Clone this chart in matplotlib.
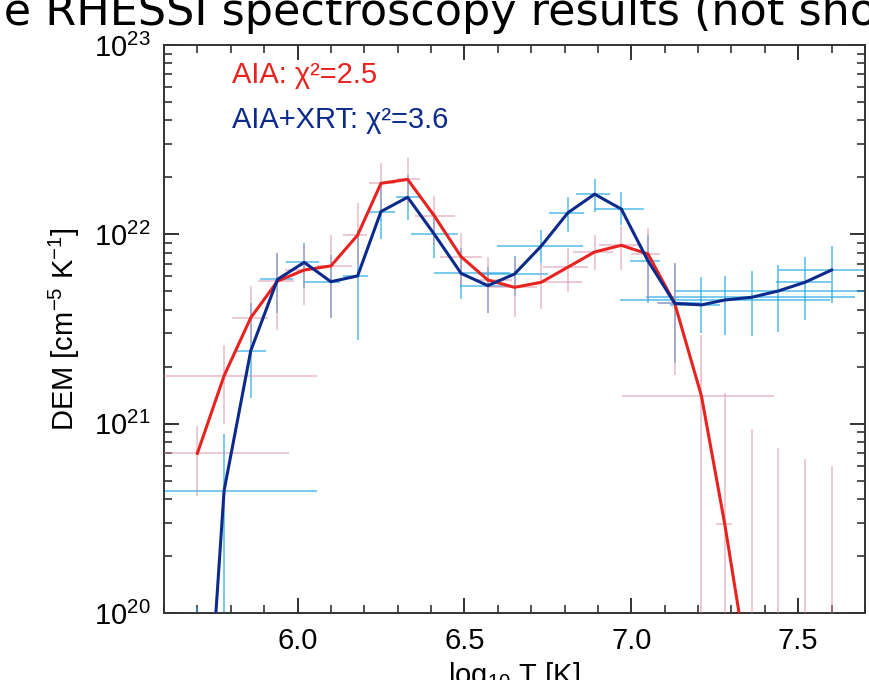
import numpy as np
import matplotlib
matplotlib.use('Agg')
import matplotlib.pyplot as plt
from matplotlib.ticker import MultipleLocator, LogLocator, NullFormatter

plt.rcParams['font.family'] = ['Liberation Sans', 'DejaVu Sans']
plt.rcParams['mathtext.fontset'] = 'custom'
plt.rcParams['mathtext.rm'] = 'Liberation Sans'
plt.rcParams['mathtext.it'] = 'Liberation Sans:italic'

# temperature grid (log10 T)
logT = [5.70, 5.78, 5.86, 5.94, 6.02, 6.10, 6.18, 6.25, 6.33, 6.41, 6.49, 6.57, 6.65,
        6.73, 6.81, 6.89, 6.97, 7.05, 7.13, 7.21, 7.28, 7.36, 7.44, 7.52, 7.60]

# AIA only
aia_dem = [6.97e20, 1.79e21, 3.63e21, 5.66e21, 6.48e21, 6.81e21, 9.9e21, 1.86e22, 1.95e22,
           1.25e22, 7.62e21, 5.74e21, 5.25e21, 5.58e21, 6.71e21, 8.07e21, 8.75e21, 7.87e21,
           4.32e21, 1.40e21, 2.94e20, 3.9e19, 1.0e19, 3.0e18, 1.0e18]
aia_hi = [9.7e20, 2.59e21, 5.33e21, 7.96e21, 8.8e21, 9.9e21, 1.46e22, 2.39e22, 2.52e22,
          1.59e22, 1.02e22, 7.62e21, 7.62e21, 7.08e21, 8.47e21, 9.9e21, 1.10e22, 1.08e22,
          7.06e21, 2.94e21, 1.46e21, 9.4e20, 7.4e20, 6.5e20, 5.97e20]
aia_lo = [4.15e20, 9.96e20, 2.67e21, 3.13e21, 4.24e21, 3.6e21, 6.89e21, 1.34e22, 1.43e22,
          8.79e21, 5.40e21, 3.83e21, 3.67e21, 4.02e21, 4.98e21, 6.48e21, 6.48e21, 4.50e21,
          1.81e21, 1e19, 1e19, 1e18, 1e18, 1e17, 1e17]
aia_tlo = [5.45, 5.45, 5.803, 5.882, 5.962, 6.057, 6.137, 6.215, 6.297, 6.351, 6.426, 6.540,
           6.570, 6.726, 6.735, 6.824, 6.902, 7.000, 7.076, 6.973, 7.255, 7.36, 7.44, 7.52, 7.60]
aia_thi = [5.973, 6.057, 5.912, 5.990, 6.030, 6.162, 6.209, 6.292, 6.366, 6.471, 6.554, 6.642,
           6.716, 6.851, 6.869, 6.945, 7.025, 7.085, 7.165, 7.426, 7.303, 7.36, 7.44, 7.52, 7.60]

# AIA + XRT
xrt_dem = [3.5e18, 4.43e20, 2.43e21, 5.78e21, 7.11e21, 5.62e21, 6.03e21, 1.32e22, 1.57e22,
           1.0e22, 6.22e21, 5.36e21, 6.17e21, 8.67e21, 1.30e22, 1.63e22, 1.36e22, 7.23e21,
           4.32e21, 4.24e21, 4.50e21, 4.65e21, 5.02e21, 5.58e21, 6.48e21]
xrt_hi = [1.08e20, 8.8e20, 4.33e21, 7.96e21, 9.03e21, 7.76e21, 1.05e22, 1.82e22, 2.06e22,
          1.31e22, 8.47e21, 6.75e21, 7.67e21, 1.05e22, 1.57e22, 1.95e22, 1.67e22, 9.9e21,
          7.06e21, 5.93e21, 6.03e21, 6.40e21, 6.89e21, 7.57e21, 8.67e21]
xrt_lo = [1e17, 1e19, 1.36e21, 3.84e21, 5.19e21, 3.60e21, 2.77e21, 9.42e21, 1.19e22,
          7.46e21, 4.54e21, 3.83e21, 4.72e21, 7.08e21, 1.03e22, 1.32e22, 1.12e22, 4.32e21,
          2.09e21, 3.0e21, 2.94e21, 2.90e21, 3.06e21, 3.52e21, 4.32e21]
xrt_tlo = [5.70, 5.45, 5.819, 5.887, 5.965, 6.016, 6.136, 6.214, 6.295, 6.340, 6.408, 6.486,
           6.540, 6.599, 6.754, 6.834, 6.890, 6.995, 7.079, 7.115, 6.965, 7.045, 7.130, 7.434, 7.438]
xrt_thi = [5.70, 6.057, 5.907, 5.985, 6.065, 6.127, 6.210, 6.292, 6.372, 6.481, 6.636, 6.630,
           6.750, 6.855, 6.858, 6.935, 7.037, 7.087, 7.205, 7.265, 7.594, 7.669, 7.80, 7.599, 7.80]

red = '#e8221e'
navy = '#0b2a8c'
pink = '#d98aa6'
sky = '#1aa6e4'

T = np.array(logT)


def bars(dem, lo, hi, tlo, thi):
    d = np.array(dem)
    yerr = [d - np.array(lo), np.array(hi) - d]
    xerr = [T - np.array(tlo), np.array(thi) - T]
    return d, xerr, yerr


fig = plt.figure(figsize=(8.7, 6.8), dpi=100)
ax = fig.add_axes([164 / 870, 67 / 680, 701 / 870, 568 / 680])

d, xe, ye = bars(xrt_dem, xrt_lo, xrt_hi, xrt_tlo, xrt_thi)
ax.errorbar(T, d, xerr=xe, yerr=ye, fmt='none', ecolor=sky, elinewidth=1.1,
            capsize=0, alpha=0.75, zorder=2)
d, xe, ye = bars(aia_dem, aia_lo, aia_hi, aia_tlo, aia_thi)
ax.errorbar(T, d, xerr=xe, yerr=ye, fmt='none', ecolor=pink, elinewidth=1.1,
            capsize=0, alpha=0.6, zorder=3)

ax.plot(T, aia_dem, color=red, lw=2.2, zorder=5)
ax.plot(T, xrt_dem, color=navy, lw=2.2, zorder=6)

ax.set_yscale('log')
ax.set_xlim(5.6, 7.7)
ax.set_ylim(1e20, 1e23)

ax.xaxis.set_major_locator(MultipleLocator(0.5))
ax.xaxis.set_minor_locator(MultipleLocator(0.1))
ax.xaxis.set_major_formatter(plt.FormatStrFormatter('%.1f'))
ax.yaxis.set_major_locator(LogLocator(base=10, numticks=10))
ax.yaxis.set_minor_locator(LogLocator(base=10, subs=np.arange(2, 10), numticks=20))
ax.yaxis.set_minor_formatter(NullFormatter())

ax.tick_params(which='both', direction='in', top=True, right=True, colors='#222222',
               labelcolor='black', labelsize=21)
ax.tick_params(which='major', length=11, width=1.3, pad=10)
ax.tick_params(which='minor', length=6, width=1.1)
for s in ax.spines.values():
    s.set_linewidth(1.4)
    s.set_color('#333333')

ax.set_ylabel('DEM [cm$^{-5}$ K$^{-1}$]', fontsize=21, labelpad=8)
ax.set_xlabel('log$_{10}$ T [K]', fontsize=21, labelpad=4)

ax.text(0.097, 0.947, 'AIA: χ²=2.5', color=red, fontsize=21, transform=ax.transAxes,
        va='center', ha='left')
ax.text(0.097, 0.868, 'AIA+XRT: χ²=3.6', color=navy, fontsize=21, transform=ax.transAxes,
        va='center', ha='left')

# cut-off caption from the page above the figure
fig.canvas.draw()
r = fig.canvas.get_renderer()
tmp = fig.text(0, 0, 'th', fontsize=32, family='DejaVu Sans')
w = tmp.get_window_extent(r).width
tmp.remove()
fig.text((4 - w) / 870, 1 - 25 / 680, 'the RHESSI spectroscopy results (not shown)',
         fontsize=32, family='DejaVu Sans', ha='left', va='baseline')

fig.savefig('out.png', dpi=100)
